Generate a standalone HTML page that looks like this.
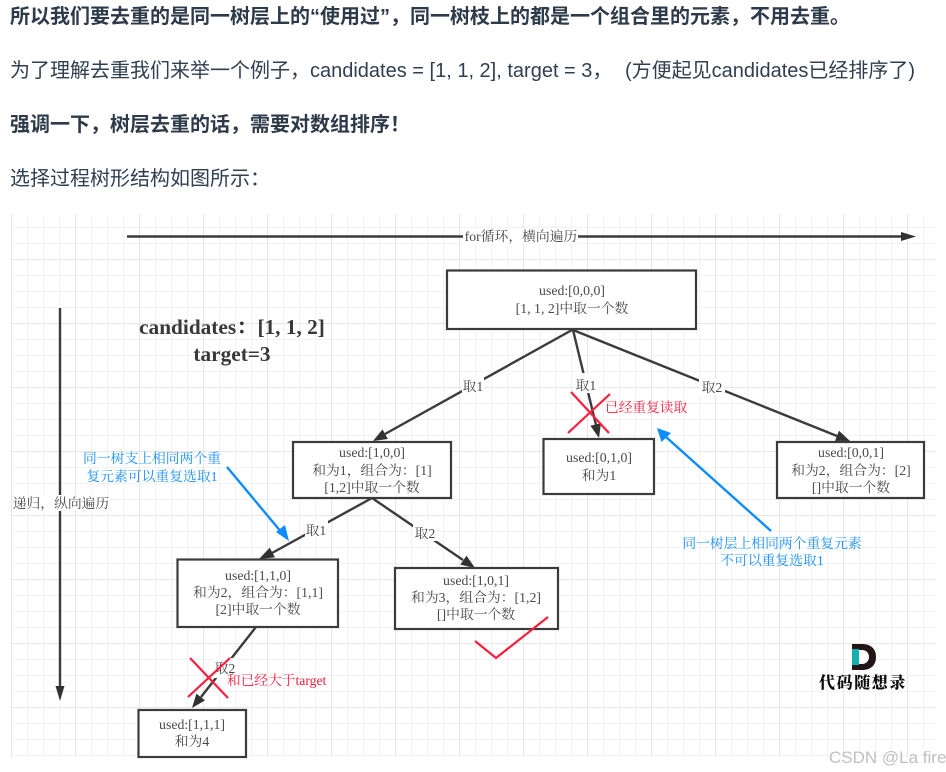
<!DOCTYPE html>
<html lang="zh"><head><meta charset="utf-8"><title>树层去重</title>
<style>
html,body{margin:0;padding:0;background:#fff;width:946px;height:772px;overflow:hidden}
svg{display:block}
.p{font-family:"Liberation Sans","Noto Sans CJK SC",sans-serif;font-size:20px;fill:#2f3f50}
.b{font-weight:700;fill:#2c3a4a}
.t{font-family:"Liberation Serif","Noto Serif CJK SC",serif;font-size:13.8px;fill:#4a4a4a;text-anchor:middle}
.r{fill:#ff1a3c;font-size:13.7px;font-family:"Liberation Serif","Noto Serif CJK SC",serif}
.bl{fill:#1a90ff;font-size:13.8px;font-family:"Liberation Serif","Noto Serif CJK SC",serif;text-anchor:middle}
.box{fill:#fff;stroke:#3a3a3a;stroke-width:2.2}
.ln{stroke:#3a3a3a;stroke-width:2.4;fill:none}
.h{fill:#333}
.lb{fill:#fff}
</style></head><body>
<svg width="946" height="772" viewBox="0 0 946 772" xmlns="http://www.w3.org/2000/svg">
<defs>
<pattern id="g" x="11" y="211" width="64" height="64" patternUnits="userSpaceOnUse">
<path d="M0.5 0V64M16.5 0V64M32.5 0V64M48.5 0V64M0 0.5H64M0 16.5H64M0 32.5H64M0 48.5H64" stroke="#f3f3f3" stroke-width="1" fill="none"/>
<path d="M0.5 0V64M0 48.5H64" stroke="#e6e6e6" stroke-width="1" fill="none"/>
</pattern>
<filter id="s" filterUnits="userSpaceOnUse" x="0" y="0" width="946" height="772"><feGaussianBlur stdDeviation="0.35"/></filter>
</defs>
<rect width="946" height="772" fill="#fff"/>
<text class="p b" x="10" y="23">所以我们要去重的是同一树层上的“使用过”，同一树枝上的都是一个组合里的元素，不用去重。</text>
<text class="p" x="10" y="77">为了理解去重我们来举一个例子，candidates = [1, 1, 2], target = 3，</text>
<text class="p" x="625" y="77">(方便起见candidates已经排序了)</text>
<text class="p b" x="10" y="131">强调一下，树层去重的话，需要对数组排序！</text>
<text class="p" x="10" y="185">选择过程树形结构如图所示：</text>

<rect x="11" y="214" width="924" height="543" fill="url(#g)"/>

<g filter="url(#s)">
<line class="ln" x1="127" y1="236.5" x2="903" y2="236.5"/>
<polygon class="h" points="901,232 916,236.5 901,241"/>
<rect class="lb" x="463" y="229" width="115" height="15"/>
<text class="t" x="521" y="241">for循环，横向遍历</text>

<line class="ln" x1="60" y1="308" x2="60" y2="688"/>
<polygon class="h" points="55.500,686 60,701 64.500,686"/>
<rect class="lb" x="13" y="495" width="97" height="16"/>
<text class="t" x="61" y="508">递归，纵向遍历</text>

<text x="232" y="334" text-anchor="middle" font-family="'Liberation Serif','Noto Serif CJK SC',serif" font-weight="700" font-size="21.3" fill="#383838">candidates：[1, 1, 2]</text>
<text x="232" y="361" text-anchor="middle" font-family="'Liberation Serif','Noto Serif CJK SC',serif" font-weight="700" font-size="21.3" fill="#383838">target=3</text>

<!-- connectors -->
<line class="ln" x1="572" y1="330" x2="385" y2="434"/><polygon class="h" points="373,441 382.500,429.400 387.900,439"/>
<line class="ln" x1="573" y1="330" x2="596" y2="425"/><polygon class="h" points="599,438 590.400,425.700 601,423.100"/>
<line class="ln" x1="573" y1="330" x2="837" y2="436"/><polygon class="h" points="850,441 835,440.900 839,430.700"/>
<line class="ln" x1="372" y1="498" x2="272" y2="553"/><polygon class="h" points="259,559 269.700,547.800 274.900,557.400"/>
<line class="ln" x1="372" y1="498" x2="463" y2="560"/><polygon class="h" points="475,568 460.300,564.600 466.500,555.600"/>
<line class="ln" x1="256" y1="627" x2="201" y2="697"/><polygon class="h" points="192,708 196.400,693.600 205,700.400"/>

<rect class="lb" x="462" y="378" width="22" height="16"/><text class="t" x="473" y="391">取1</text>
<rect class="lb" x="575" y="373" width="23" height="20"/><text class="t" x="586" y="390">取1</text>
<rect class="lb" x="699" y="379" width="26" height="16"/><text class="t" x="712" y="392">取2</text>
<rect class="lb" x="305" y="520" width="23" height="18"/><text class="t" x="316" y="535">取1</text>
<rect class="lb" x="413" y="523" width="24" height="18"/><text class="t" x="425" y="538">取2</text>
<rect class="lb" x="213" y="658" width="24" height="20"/><text class="t" x="225" y="673">取2</text>

<!-- boxes -->
<rect class="box" x="447" y="270.500" width="249" height="58.500"/>
<text class="t" x="572" y="295">used:[0,0,0]</text>
<text class="t" x="572" y="313">[1, 1, 2]中取一个数</text>

<rect class="box" x="293" y="442" width="158" height="56"/>
<text class="t" x="372" y="457">used:[1,0,0]</text>
<text class="t" x="372" y="475">和为1，组合为：[1]</text>
<text class="t" x="372" y="492">[1,2]中取一个数</text>

<rect class="box" x="543.500" y="439" width="110.500" height="55"/>
<text class="t" x="599" y="462">used:[0,1,0]</text>
<text class="t" x="599" y="480">和为1</text>

<rect class="box" x="777" y="442" width="147" height="56"/>
<text class="t" x="851" y="457">used:[0,0,1]</text>
<text class="t" x="851" y="475">和为2，组合为：[2]</text>
<text class="t" x="851" y="492">[]中取一个数</text>

<rect class="box" x="177.500" y="559.500" width="160.500" height="67.500"/>
<text class="t" x="258" y="580">used:[1,1,0]</text>
<text class="t" x="258" y="597">和为2，组合为：[1,1]</text>
<text class="t" x="258" y="614">[2]中取一个数</text>

<rect class="box" x="395" y="568" width="163" height="61"/>
<text class="t" x="476" y="585">used:[1,0,1]</text>
<text class="t" x="476" y="602">和为3，组合为：[1,2]</text>
<text class="t" x="476" y="619">[]中取一个数</text>

<rect class="box" x="138.500" y="710" width="107.500" height="47"/>
<text class="t" x="192" y="729">used:[1,1,1]</text>
<text class="t" x="192" y="746">和为4</text>

<!-- red marks -->
<g stroke="#ff1a3c" stroke-width="2.2" fill="none">
<path d="M571 392L609 433M610 394L568 433"/>
<path d="M190 658L228 698M230 658L188 697"/>
<path d="M475 641L496 658L548 617"/>
</g>
<text class="r" x="605" y="412">已经重复读取</text>
<text class="r" x="227" y="685">和已经大于target</text>

<!-- blue -->
<g stroke="#0a8cff" stroke-width="2.4" fill="none">
<line x1="227" y1="467" x2="282" y2="533"/>
<line x1="771" y1="531" x2="666" y2="437"/>
</g>
<polygon fill="#0a8cff" points="289,541 276,532 285,525"/>
<polygon fill="#0a8cff" points="657,428 671,433 661.500,442"/>
<text class="bl" x="152" y="463">同一树支上相同两个重</text>
<text class="bl" x="152" y="481">复元素可以重复选取1</text>
<text class="bl" x="772" y="548">同一树层上相同两个重复元素</text>
<text class="bl" x="772" y="565">不可以重复选取1</text>

<!-- logo -->
<path d="M852 644H862C871 644 876 649 876 657C876 665 871 670 862 670H852Z" fill="#231815"/>
<rect x="852" y="649" width="7" height="16" fill="#14b0b0"/>
<path d="M859 650H862C866 650 869 653 869 657C869 661 866 664 862 664H859Z" fill="#fff"/>
<text x="819" y="688" font-family="'Noto Serif CJK SC',serif" font-weight="900" font-size="16" letter-spacing="1.600" fill="#111">代码随想录</text>
</g>

<text x="829" y="763" font-family="'Liberation Sans',sans-serif" font-size="17" fill="#c0c0c0">CSDN @La fire</text>
</svg>
</body></html>
